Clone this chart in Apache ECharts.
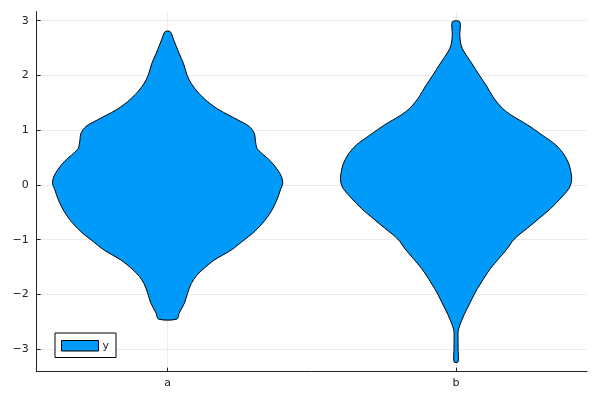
<!DOCTYPE html>
<html>
    <head>
        <title></title>
        <meta charset="UTF-8">
        <style>
            html, body { margin: 0; padding: 0; background: #fff; }
            #main { width: 600px; height: 400px; }
        </style>
        <script src="https://cdn.jsdelivr.net/npm/echarts@6/dist/echarts.min.js"></script>
    </head>
    <body>
        <div id="main"></div>
    </body>
    <script>
        // categories and their x positions
        var categories = ['a', 'b'];
        var centers = [0.5, 1.5];
        var yTicks = [-3, -2, -1, 0, 1, 2, 3];

        // violin a: y levels (top to bottom) and half widths
        var yA = [2.80, 2.65, 2.40, 2.22, 2.01, 1.86, 1.70, 1.52, 1.37, 1.19, 1.07, 0.94, 0.82, 0.67, 0.58, 0.43, 0.27, 0.15, 0.03,
                  -0.09, -0.27, -0.49, -0.70, -0.88, -1.00, -1.19, -1.37, -1.55, -1.67, -1.80, -1.98, -2.16, -2.34, -2.45];
        var wA = [0.009, 0.021, 0.040, 0.055, 0.067, 0.081, 0.104, 0.139, 0.179, 0.243, 0.283, 0.301, 0.304, 0.310, 0.326, 0.358, 0.382, 0.395, 0.399,
                  0.391, 0.379, 0.358, 0.329, 0.295, 0.266, 0.220, 0.162, 0.120, 0.098, 0.082, 0.069, 0.058, 0.040, 0.032];

        // violin b
        var yB = [2.98, 2.74, 2.56, 2.43, 2.25, 2.01, 1.83, 1.58, 1.40, 1.28, 1.10, 0.91, 0.73, 0.55, 0.37, 0.18, 0.06,
                  -0.06, -0.24, -0.43, -0.61, -0.79, -0.91, -1.03, -1.16, -1.34, -1.52, -1.70, -1.95, -2.19, -2.37, -2.56, -2.68, -2.80, -2.98, -3.23];
        var wB = [0.013, 0.013, 0.017, 0.028, 0.051, 0.080, 0.103, 0.132, 0.161, 0.190, 0.247, 0.299, 0.346, 0.375, 0.392, 0.400, 0.400,
                  0.392, 0.363, 0.328, 0.288, 0.247, 0.218, 0.195, 0.178, 0.149, 0.120, 0.097, 0.068, 0.045, 0.028, 0.013, 0.007, 0.007, 0.007, 0.007];

        var violins = [[yA, wA], [yB, wB]];

        var chart = echarts.init(document.getElementById('main'));

        function minus(v) {
            return String(v).replace('-', '\u2212');
        }

        var option = {
            animation: false,
            textStyle: { fontFamily: 'DejaVu Sans' },
            grid: { left: 36.7, right: 13, top: 11.7, bottom: 28.3, containLabel: false },
            legend: {
                left: 55,
                top: 333,
                orient: 'vertical',
                icon: 'rect',
                itemWidth: 37,
                itemHeight: 10.5,
                itemGap: 0,
                padding: [7, 7, 6, 6],
                borderColor: '#000',
                borderWidth: 1,
                backgroundColor: '#fff',
                itemStyle: { borderColor: '#000', borderWidth: 1 },
                textStyle: { fontSize: 11, color: '#222', padding: [0, 0, 0, -1] },
                data: ['y']
            },
            xAxis: {
                type: 'value',
                min: 0.046,
                max: 1.954,
                axisLine: { show: true, onZero: false, lineStyle: { color: '#222', width: 1 } },
                axisTick: { show: true, inside: true, length: 4, lineStyle: { color: '#222' }, customValues: centers },
                axisLabel: {
                    customValues: centers,
                    color: '#222', fontSize: 11, margin: 6,
                    formatter: function (v) {
                        var i = centers.indexOf(v);
                        return i >= 0 ? categories[i] : '';
                    }
                },
                splitLine: { show: true, lineStyle: { color: '#ececec', width: 1 } }
            },
            yAxis: {
                type: 'value',
                min: -3.41,
                max: 3.165,
                axisLine: { show: true, onZero: false, lineStyle: { color: '#222', width: 1 } },
                axisTick: { show: true, inside: true, length: 4, lineStyle: { color: '#222' }, customValues: yTicks },
                axisLabel: { customValues: yTicks, color: '#222', fontSize: 11, margin: 8, formatter: minus },
                splitLine: { show: true, lineStyle: { color: '#ececec', width: 1 } }
            },
            series: [{
                name: 'y',
                type: 'custom',
                itemStyle: { color: '#009afa', borderColor: '#000', borderWidth: 1 },
                data: [[0], [1]],
                renderItem: function (params, api) {
                    var k = params.dataIndex;
                    var ys = violins[k][0], ws = violins[k][1], c = centers[k];
                    var pts = [];
                    for (var i = 0; i < ys.length; i++) pts.push(api.coord([c + ws[i], ys[i]]));
                    for (var j = ys.length - 1; j >= 0; j--) pts.push(api.coord([c - ws[j], ys[j]]));
                    return {
                        type: 'polygon',
                        shape: { points: pts, smooth: 0.3 },
                        style: { fill: '#009afa', stroke: '#000', lineWidth: 1 }
                    };
                }
            }]
        };

        chart.setOption(option);
    </script>
</html>
